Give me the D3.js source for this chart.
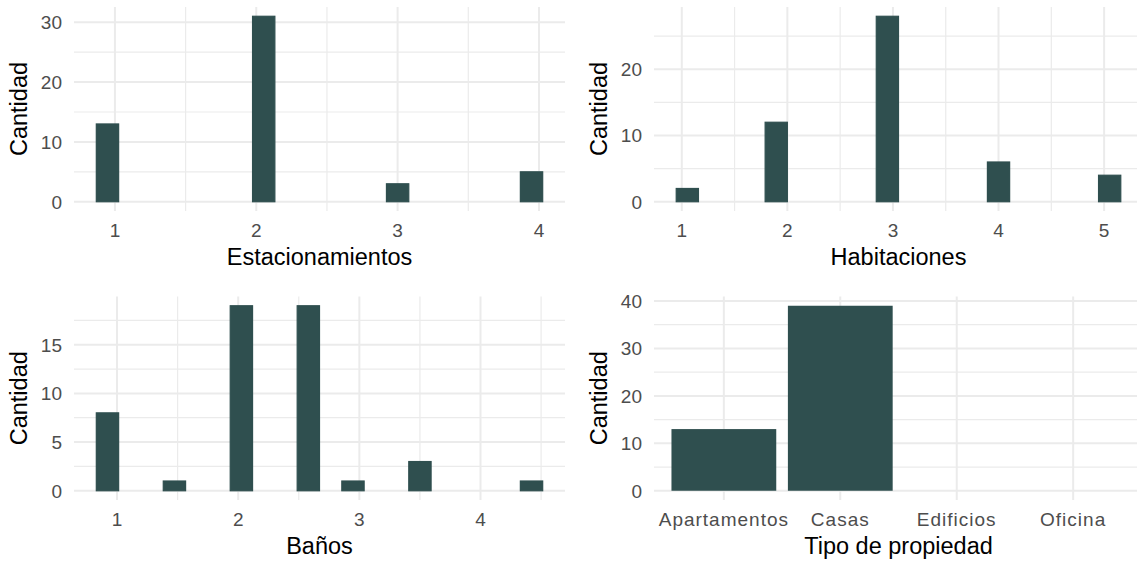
<!DOCTYPE html>
<html><head><meta charset="utf-8">
<script src="https://cdn.jsdelivr.net/npm/d3@7"></script>
<style>
html,body{margin:0;padding:0;background:#fff;}
svg{display:block;font-family:"Liberation Sans",Arial,sans-serif;}
</style></head>
<body>
<svg id="chart" width="1137" height="562"></svg>
<script>
// ---- data ----
const estacionamientosValores = [1, 2, 3, 4];
const estacionamientosCantidad = [13, 31, 3, 5];
const habitacionesValores = [1, 2, 3, 4, 5];
const habitacionesCantidad = [2, 12, 28, 6, 4];
const banosValores = [1, 1.5, 2, 2.5, 3, 3.5, 4.5];
const banosCantidad = [8, 1, 19, 19, 1, 3, 1];
const tipoCategorias = ["Apartamentos", "Casas", "Edificios", "Oficina"];
const tipoCantidad = [13, 39, 0, 0];
const numBins = 20;
const ticksEst = [1, 2, 3, 4], ticksHab = [1, 2, 3, 4, 5], ticksBan = [1, 2, 3, 4];
const yTicksEst = [0, 10, 20, 30], yTicksHab = [0, 10, 20], yTicksBan = [0, 5, 10, 15], yTicksTipo = [0, 10, 20, 30, 40];

const svg = d3.select("#chart");
const FILL = "#2F4F4F", GRID = "#EBEBEB", TXT = "#4D4D4D";
const TICK_FS = 19, TITLE_FS = 23.5;

const cols = [[74, 565], [654, 1143]];
const rows = [[7, 211], [296.5, 500]];

function binsFor(vals, counts) {
  const lo = d3.min(vals), hi = d3.max(vals);
  const w = (hi - lo) / (numBins - 1), b = w / 2;
  return vals.map((v, i) => {
    const k = Math.ceil((v - b) / w - 1e-9) - 1;
    return {x0: b + k * w, x1: b + (k + 1) * w, n: counts[i]};
  });
}

function midpoints(t) { const m = []; for (let i = 0; i < t.length - 1; i++) m.push((t[i] + t[i+1]) / 2); return m; }

function yAxisStuff(g, y, yTicks, xr) {
  const yMin = midpoints(yTicks.concat([yTicks[yTicks.length-1] + (yTicks[1]-yTicks[0])]));
  const yd = y.domain();
  const yMinor = yMin.filter(v => v >= yd[0] && v <= yd[1]);
  g.selectAll(".ymin").data(yMinor).join("line")
    .attr("x1", xr[0]).attr("x2", xr[1]).attr("y1", d => y(d)).attr("y2", d => y(d))
    .attr("stroke", GRID).attr("stroke-width", 1.2);
  g.selectAll(".ymaj").data(yTicks).join("line")
    .attr("x1", xr[0]).attr("x2", xr[1]).attr("y1", d => y(d)).attr("y2", d => y(d))
    .attr("stroke", GRID).attr("stroke-width", 2);
}

function yLabels(g, y, yTicks, xr, yr) {
  g.selectAll(".ylab").data(yTicks).join("text")
    .attr("x", xr[0] - 12).attr("y", d => y(d)).attr("dy", "0.36em")
    .attr("text-anchor", "end").attr("font-size", TICK_FS).attr("fill", TXT)
    .text(d => d);
  g.append("text")
    .attr("transform", `translate(${xr[0] - 47},${(yr[0] + yr[1]) / 2}) rotate(-90)`)
    .attr("text-anchor", "middle").attr("font-size", TITLE_FS).attr("fill", "#000")
    .text("Cantidad");
}

function histPanel(vals, counts, xTicks, yTicks, title, xr, yr) {
  const g = svg.append("g");
  const bins = binsFor(vals, counts);
  const xlo = d3.min(bins, d => d.x0), xhi = d3.max(bins, d => d.x1);
  const xe = (xhi - xlo) * 0.05;
  const x = d3.scaleLinear().domain([xlo - xe, xhi + xe]).range(xr);
  const ymax = d3.max(counts);
  const y = d3.scaleLinear().domain([-ymax * 0.05, ymax * 1.05]).range([yr[1], yr[0]]);
  yAxisStuff(g, y, yTicks, xr);
  const xd = x.domain();
  const step = xTicks[1] - xTicks[0];
  const xAll = d3.range(xTicks[0] - step, xTicks[xTicks.length-1] + 2 * step, step);
  const xMinor = midpoints(xAll).filter(v => v >= xd[0] && v <= xd[1]);
  g.selectAll(".xmin").data(xMinor).join("line")
    .attr("y1", yr[0]).attr("y2", yr[1]).attr("x1", d => x(d)).attr("x2", d => x(d))
    .attr("stroke", GRID).attr("stroke-width", 1.2);
  g.selectAll(".xmaj").data(xTicks).join("line")
    .attr("y1", yr[0]).attr("y2", yr[1]).attr("x1", d => x(d)).attr("x2", d => x(d))
    .attr("stroke", GRID).attr("stroke-width", 2);
  g.selectAll(".bar").data(bins).join("rect")
    .attr("x", d => x(d.x0)).attr("width", d => x(d.x1) - x(d.x0))
    .attr("y", d => y(d.n)).attr("height", d => y(0) - y(d.n))
    .attr("fill", FILL).attr("stroke", FILL).attr("stroke-width", 1.2);
  g.selectAll(".xlab").data(xTicks).join("text")
    .attr("x", d => x(d)).attr("y", yr[1] + 26)
    .attr("text-anchor", "middle").attr("font-size", TICK_FS).attr("fill", TXT)
    .text(d => d);
  g.append("text").attr("x", (xr[0] + xr[1]) / 2).attr("y", yr[1] + 54)
    .attr("text-anchor", "middle").attr("font-size", TITLE_FS).attr("fill", "#000").text(title);
  yLabels(g, y, yTicks, xr, yr);
}

function barPanel(cats, counts, yTicks, title, xr, yr) {
  const g = svg.append("g");
  const x = d3.scalePoint().domain(cats).range(xr).padding(0.6);
  const bw = x.step() * 0.9;
  const ymax = d3.max(counts);
  const y = d3.scaleLinear().domain([-ymax * 0.05, ymax * 1.05]).range([yr[1], yr[0]]);
  yAxisStuff(g, y, yTicks, xr);
  g.selectAll(".xmaj").data(cats).join("line")
    .attr("y1", yr[0]).attr("y2", yr[1]).attr("x1", d => x(d)).attr("x2", d => x(d))
    .attr("stroke", GRID).attr("stroke-width", 2);
  g.selectAll(".bar").data(cats.map((c, i) => ({c, n: counts[i]})).filter(d => d.n > 0)).join("rect")
    .attr("x", d => x(d.c) - bw / 2).attr("width", bw)
    .attr("y", d => y(d.n)).attr("height", d => y(0) - y(d.n))
    .attr("fill", FILL);
  g.selectAll(".xlab").data(cats).join("text")
    .attr("x", d => x(d)).attr("y", yr[1] + 26)
    .attr("text-anchor", "middle").attr("font-size", TICK_FS).attr("fill", TXT)
    .attr("letter-spacing", "1px")
    .text(d => d);
  g.append("text").attr("x", (xr[0] + xr[1]) / 2).attr("y", yr[1] + 54)
    .attr("text-anchor", "middle").attr("font-size", TITLE_FS).attr("fill", "#000").text(title);
  yLabels(g, y, yTicks, xr, yr);
}

histPanel(estacionamientosValores, estacionamientosCantidad, ticksEst, yTicksEst, "Estacionamientos", cols[0], rows[0]);
histPanel(habitacionesValores, habitacionesCantidad, ticksHab, yTicksHab, "Habitaciones", cols[1], rows[0]);
histPanel(banosValores, banosCantidad, ticksBan, yTicksBan, "Baños", cols[0], rows[1]);
barPanel(tipoCategorias, tipoCantidad, yTicksTipo, "Tipo de propiedad", cols[1], rows[1]);
</script>
</body></html>
